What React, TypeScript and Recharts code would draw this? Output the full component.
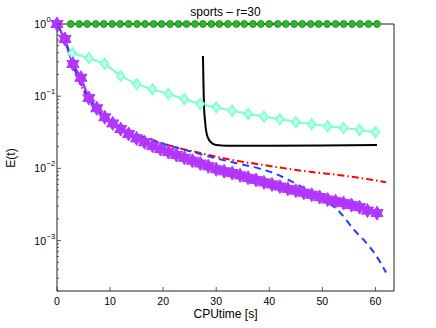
import React from "react";
import { LineChart, Line, XAxis, YAxis } from "recharts";

// plot box (px), used only for axis decoration
const PLOT_LEFT = 57;
const PLOT_RIGHT = 394;
const PLOT_TOP = 24;
const PLOT_BOTTOM = 291;
const FONT = "'Liberation Sans', Arial, Helvetica, sans-serif";

const X_TICKS = [0, 10, 20, 30, 40, 50, 60];
const Y_MAJOR = [1e-3, 1e-2, 1e-1, 1];
const Y_MAJOR_LABELS = ["\u22123", "\u22122", "\u22121", "0"];
const Y_MINOR = [1e-4, 1e-3, 1e-2, 1e-1].flatMap((d) =>
  [2, 3, 4, 5, 6, 7, 8, 9].map((m) => +(m * d).toPrecision(3))
).filter((v) => v >= 2e-4 && v < 1);
const Y_TICKS = [...Y_MAJOR, ...Y_MINOR].sort((a, b) => a - b);

// green circles
const greenX = [2.6, 4.2, 5.7, 7.3, 8.8, 10.4, 11.9, 13.5, 15.1, 16.6, 18.2, 19.7, 21.3, 22.9, 24.4, 26.0, 27.5, 29.1, 30.6, 32.2, 33.8, 35.3, 36.9, 38.4, 40.0, 41.6, 43.1, 44.7, 46.2, 47.8, 49.3, 50.9, 52.5, 54.0, 55.6, 57.1, 58.7, 60.3];
const greenE = greenX.map(() => 1);

// cyan diamonds
const cyanX = [2.9, 6, 9, 12, 15, 18, 21, 24, 27, 30, 33, 36, 39, 42, 45, 48, 51, 54, 57, 60];
const cyanE = [0.395, 0.337, 0.281, 0.191, 0.147, 0.125, 0.107, 0.091, 0.078, 0.07, 0.063, 0.0568, 0.052, 0.048, 0.044, 0.041, 0.0383, 0.0363, 0.034, 0.0316];

// black solid
const blackX = [27.5, 27.6, 27.7, 27.9, 28.1, 28.5, 29, 30, 32, 40, 50, 60.3];
const blackE = [0.36, 0.15, 0.072, 0.045, 0.033, 0.026, 0.023, 0.021, 0.0205, 0.0205, 0.0207, 0.021];

// red dash-dot
const redX = [0, 1, 2, 3, 4, 5, 6, 8, 10, 12, 14, 16, 18, 20, 23, 26, 30, 34, 38, 43, 48, 53, 58, 62];
const redE = [1, 0.7, 0.45, 0.27, 0.17, 0.12, 0.09, 0.058, 0.045, 0.037, 0.031, 0.027, 0.024, 0.022, 0.019, 0.017, 0.0145, 0.0127, 0.0114, 0.01, 0.0089, 0.0081, 0.0072, 0.0064];

// blue dashed
const blueX = [0, 1, 2, 3, 4, 5, 6, 8, 10, 12, 14, 16, 18, 20, 23, 26, 30, 34, 38, 41, 44, 47, 50, 53, 56, 58, 60, 62];
const blueE = [1, 0.72, 0.46, 0.28, 0.175, 0.125, 0.093, 0.06, 0.046, 0.038, 0.032, 0.028, 0.025, 0.022, 0.019, 0.0165, 0.0138, 0.0117, 0.01, 0.0085, 0.0067, 0.0051, 0.0038, 0.0026, 0.0014, 0.00098, 0.00064, 0.00036];

// magenta hexagrams
const magX = [0, 1.5, 3, 4.5, 6, 7.5, 9, 10.5, 12, 13.5, 15, 16.5, 18, 19.5, 21, 22.5, 24, 25.5, 27, 28.5, 30, 31.5, 33, 34.5, 36, 37.5, 39, 40.5, 42, 43.5, 45, 46.5, 48, 49.5, 51, 52.5, 54, 55.5, 57, 58.5, 60.3];
const magE = [1, 0.62, 0.28, 0.18, 0.094, 0.068, 0.051, 0.042, 0.035, 0.03, 0.026, 0.023, 0.0205, 0.0185, 0.0168, 0.0153, 0.014, 0.0128, 0.0117, 0.0107, 0.0097, 0.0091, 0.0086, 0.008, 0.0074, 0.0069, 0.0064, 0.006, 0.0056, 0.0052, 0.0049, 0.0046, 0.0043, 0.004, 0.0037, 0.0035, 0.0033, 0.0031, 0.0029, 0.0026, 0.0024];

const zip = (xs: number[], es: number[]) => xs.map((x, i) => ({ x, e: es[i] }));

const GREEN = "#22aa22";
const CYAN = "#7fffd4";
const MAGENTA = "#b236ff";

function circleDot(props: any) {
  const { cx, cy, index } = props;
  return <circle key={`g${index}`} cx={cx} cy={cy} r={3.4} fill="#2fb52f" stroke="#1c9a1c" strokeWidth={1} />;
}

function diamondDot(props: any) {
  const { cx, cy, index } = props;
  const w = 3.8;
  const h = 5.2;
  return (
    <path
      key={`c${index}`}
      d={`M${cx},${cy - h}L${cx + w},${cy}L${cx},${cy + h}L${cx - w},${cy}Z`}
      fill="#c8ffee"
      stroke={CYAN}
      strokeWidth={1.8}
    />
  );
}

function starDot(props: any) {
  const { cx, cy, index } = props;
  const r = 7;
  const a = r * 0.866;
  const b = r / 2;
  const d =
    `M${cx},${cy - r}L${cx + a},${cy + b}L${cx - a},${cy + b}Z` +
    `M${cx},${cy + r}L${cx - a},${cy - b}L${cx + a},${cy - b}Z`;
  return <path key={`m${index}`} d={d} fill={MAGENTA} stroke={MAGENTA} strokeWidth={1} strokeLinejoin="round" />;
}

function LeftTick(props: any) {
  const { y, payload } = props;
  const v = payload.value;
  const idx = Y_MAJOR.findIndex((m) => Math.abs(m - v) / m < 1e-6);
  const len = idx >= 0 ? 4 : 2;
  return (
    <g>
      <line x1={PLOT_LEFT} x2={PLOT_LEFT + len} y1={y} y2={y} stroke="#333" strokeWidth={0.8} />
      {idx >= 0 && (
        <>
          <text x={46} y={y + 4} textAnchor="end" fontSize={10.5} fontFamily={FONT} fill="#000">10</text>
          <text x={46.5} y={y - 2} textAnchor="start" fontSize={7.5} fontFamily={FONT} fill="#000">
            {Y_MAJOR_LABELS[idx]}
          </text>
        </>
      )}
    </g>
  );
}

function RightTick(props: any) {
  const { y, payload } = props;
  const v = payload.value;
  const major = Y_MAJOR.some((m) => Math.abs(m - v) / m < 1e-6);
  const len = major ? 4 : 2;
  return <line x1={PLOT_RIGHT} x2={PLOT_RIGHT - len} y1={y} y2={y} stroke="#333" strokeWidth={0.8} />;
}

function BottomTick(props: any) {
  const { x, payload } = props;
  return (
    <g>
      <line x1={x} x2={x} y1={PLOT_BOTTOM} y2={PLOT_BOTTOM - 4} stroke="#333" strokeWidth={0.8} />
      <text x={x} y={PLOT_BOTTOM + 14} textAnchor="middle" fontSize={10.5} fontFamily={FONT} fill="#000">
        {payload.value}
      </text>
    </g>
  );
}

function TopTick(props: any) {
  const { x } = props;
  return <line x1={x} x2={x} y1={PLOT_TOP} y2={PLOT_TOP + 4} stroke="#333" strokeWidth={0.8} />;
}

export default function App() {
  return (
    <div style={{ position: "absolute", left: 0, top: 0, width: 436, height: 328, background: "#fff" }}>
      <LineChart
        width={436}
        height={328}
        margin={{ top: PLOT_TOP - 5, right: 436 - PLOT_RIGHT - 5, bottom: 328 - PLOT_BOTTOM - 30, left: PLOT_LEFT - 40 }}
      >
        <XAxis
          dataKey="x"
          type="number"
          domain={[0, 63.5]}
          ticks={X_TICKS}
          height={30}
          tickLine={false}
          tickSize={0}
          tickMargin={0}
          axisLine={{ stroke: "#222", strokeWidth: 1 }}
          tick={<BottomTick />}
          interval={0}
        />
        <XAxis
          xAxisId="t"
          orientation="top"
          dataKey="x"
          type="number"
          domain={[0, 63.5]}
          ticks={X_TICKS}
          height={5}
          tickLine={false}
          tickSize={0}
          tickMargin={0}
          axisLine={{ stroke: "#222", strokeWidth: 1 }}
          tick={<TopTick />}
          interval={0}
        />
        <YAxis
          type="number"
          scale="log"
          domain={[2e-4, 1]}
          ticks={Y_TICKS}
          width={40}
          tickLine={false}
          tickSize={0}
          tickMargin={0}
          axisLine={{ stroke: "#222", strokeWidth: 1 }}
          tick={<LeftTick />}
          interval={0}
        />
        <YAxis
          yAxisId="r"
          orientation="right"
          type="number"
          scale="log"
          domain={[2e-4, 1]}
          ticks={Y_TICKS}
          width={5}
          tickLine={false}
          tickSize={0}
          tickMargin={0}
          axisLine={{ stroke: "#222", strokeWidth: 1 }}
          tick={<RightTick />}
          interval={0}
        />
        <Line
          data={zip(greenX, greenE)}
          dataKey="e"
          stroke={GREEN}
          strokeWidth={2}
          dot={circleDot}
          isAnimationActive={false}
        />
        <Line
          data={zip(cyanX, cyanE)}
          dataKey="e"
          stroke={CYAN}
          strokeWidth={2.2}
          dot={diamondDot}
          isAnimationActive={false}
        />
        <Line
          data={zip(blackX, blackE)}
          dataKey="e"
          type="monotone"
          stroke="#000"
          strokeWidth={2}
          dot={false}
          isAnimationActive={false}
        />
        <Line
          data={zip(redX, redE)}
          dataKey="e"
          type="monotone"
          stroke="#ff0000"
          strokeWidth={2}
          strokeDasharray="7 3 1.5 3"
          dot={false}
          isAnimationActive={false}
        />
        <Line
          data={zip(magX, magE)}
          dataKey="e"
          stroke={MAGENTA}
          strokeWidth={2.5}
          dot={starDot}
          isAnimationActive={false}
        />
        <Line
          data={zip(blueX, blueE)}
          dataKey="e"
          type="monotone"
          stroke="#1f3fff"
          strokeWidth={2}
          strokeDasharray="7 5"
          dot={false}
          isAnimationActive={false}
        />
        <text x={225.5} y={16} textAnchor="middle" fontSize={12} fontFamily={FONT} fill="#000">
          sports – r=30
        </text>
        <text x={225.5} y={318} textAnchor="middle" fontSize={12} fontFamily={FONT} fill="#000">
          CPUtime [s]
        </text>
        <text
          x={15}
          y={158}
          transform="rotate(-90 15 158)"
          textAnchor="middle"
          fontSize={12}
          fontFamily={FONT}
          fill="#000"
        >
          E(t)
        </text>
      </LineChart>
    </div>
  );
}
